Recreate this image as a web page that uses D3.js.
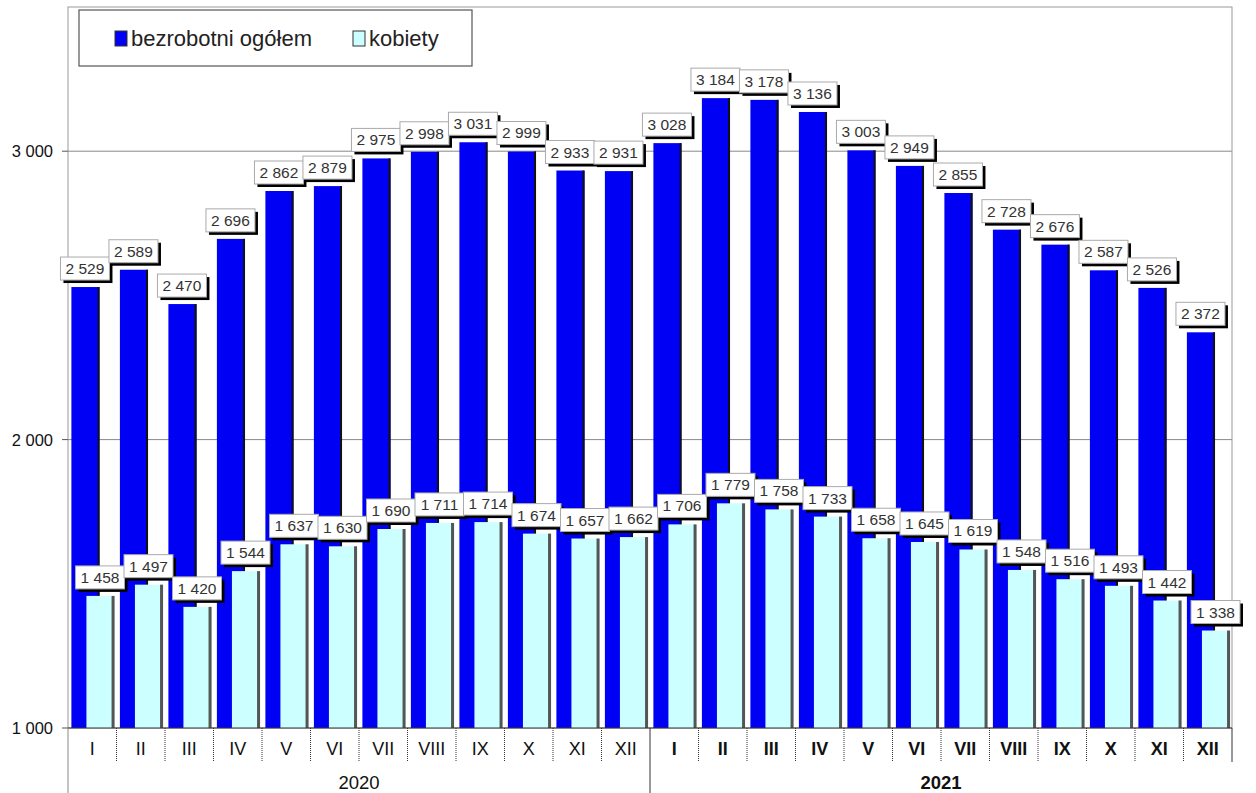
<!DOCTYPE html>
<meta charset="utf-8">
<title>Bezrobotni 2020-2021</title>
<style>
	body { margin: 0; background: #fff; }
	text { font-family: Arial, "Liberation Sans", sans-serif; }
	.lbl text { fill: #333; font-size: 15.5px; }
</style>
<body>
<script src="https://d3js.org/d3.v7.min.js"></script>
<script>

var width = 1256,
	height = 793;

var months = ["I","II","III","IV","V","VI","VII","VIII","IX","X","XI","XII"];
var years = ["2020", "2021"];
var ogolem = [2529, 2589, 2470, 2696, 2862, 2879, 2975, 2998, 3031, 2999, 2933, 2931,
	3028, 3184, 3178, 3136, 3003, 2949, 2855, 2728, 2676, 2587, 2526, 2372];
var kobiety = [1458, 1497, 1420, 1544, 1637, 1630, 1690, 1711, 1714, 1674, 1657, 1662,
	1706, 1779, 1758, 1733, 1658, 1645, 1619, 1548, 1516, 1493, 1442, 1338];
var yTicks = [1000, 2000, 3000];

var pLeft = 68, pRight = 1232, pTop = 7, pBottom = 728;

var keys = d3.range(24);
var x = d3.scaleBand().domain(keys).range([pLeft, pRight]);
var y = d3.scaleLinear().domain([1000, 3500]).range([pBottom, pTop]);
var bw = x.bandwidth();

var fmt = d3.formatLocale({decimal: ",", thousands: " ", grouping: [3], currency: ["", ""]}).format(",d");

var svg = d3.select("body").append("svg")
	.attr("width", width)
	.attr("height", height);

// grid
svg.selectAll(".grid").data([2000, 3000]).enter().append("line")
	.attr("x1", pLeft).attr("x2", pRight)
	.attr("y1", function(d) { return y(d); }).attr("y2", function(d) { return y(d); })
	.attr("stroke", "#888").attr("stroke-width", 1);

// frame
svg.append("rect")
	.attr("x", pLeft).attr("y", pTop)
	.attr("width", pRight - pLeft).attr("height", pBottom - pTop)
	.attr("fill", "none").attr("stroke", "#999").attr("stroke-width", 1);

// blue bars
var blue = svg.selectAll(".blue").data(keys).enter().append("g");
blue.append("rect")
	.attr("x", function(d) { return x(d) + bw * 0.07; })
	.attr("y", function(d) { return y(ogolem[d]); })
	.attr("width", bw * 0.58)
	.attr("height", function(d) { return pBottom - y(ogolem[d]); })
	.attr("fill", "#0000f5");
blue.append("rect")
	.attr("x", function(d) { return x(d) + bw * 0.65 - 2; })
	.attr("y", function(d) { return y(ogolem[d]); })
	.attr("width", 2)
	.attr("height", function(d) { return pBottom - y(ogolem[d]); })
	.attr("fill", "#111");

// light bars
var light = svg.selectAll(".light").data(keys).enter().append("g");
light.append("rect")
	.attr("x", function(d) { return x(d) + bw * 0.38; })
	.attr("y", function(d) { return y(kobiety[d]); })
	.attr("width", bw * 0.58)
	.attr("height", function(d) { return pBottom - y(kobiety[d]); })
	.attr("fill", "#ccffff");
light.append("rect")
	.attr("x", function(d) { return x(d) + bw * 0.96 - 3; })
	.attr("y", function(d) { return y(kobiety[d]); })
	.attr("width", 3)
	.attr("height", function(d) { return pBottom - y(kobiety[d]); })
	.attr("fill", "#555");

// value labels
function labels(values, offset) {
	var g = svg.selectAll(null).data(keys).enter().append("g")
		.attr("class", "lbl")
		.attr("transform", function(d) {
			return "translate(" + (x(d) + bw * offset) + "," + (y(values[d]) - 6) + ")";
		});
	g.append("rect")
		.attr("x", -22).attr("y", -21).attr("width", 49).attr("height", 23)
		.attr("fill", "#000");
	g.append("rect")
		.attr("x", -25).attr("y", -24).attr("width", 49).attr("height", 23)
		.attr("fill", "#fff").attr("stroke", "#aaa").attr("stroke-width", 1);
	g.append("text")
		.attr("x", -0.5).attr("y", -7)
		.attr("text-anchor", "middle")
		.text(function(d) { return fmt(values[d]); });
}
labels(ogolem, 0.36);
labels(kobiety, 0.67);

// y axis
var ya = svg.append("g");
ya.selectAll("line").data(yTicks).enter().append("line")
	.attr("x1", pLeft - 6).attr("x2", pLeft)
	.attr("y1", function(d) { return y(d); }).attr("y2", function(d) { return y(d); })
	.attr("stroke", "#555");
ya.selectAll("text").data(yTicks).enter().append("text")
	.attr("x", 53).attr("y", function(d) { return y(d) + 6; })
	.attr("text-anchor", "end")
	.attr("font-size", 16.5)
	.attr("fill", "#111")
	.text(function(d) { return fmt(d); });

// x axis
var xa = svg.append("g");
xa.append("line").attr("x1", pLeft).attr("x2", pRight).attr("y1", pBottom).attr("y2", pBottom)
	.attr("stroke", "#333");
xa.selectAll(".sep").data(keys.slice(1)).enter().append("line")
	.attr("x1", function(d) { return x(d); }).attr("x2", function(d) { return x(d); })
	.attr("y1", pBottom).attr("y2", function(d) { return d === 12 ? height : pBottom + 34; })
	.attr("stroke", "#333")
	.attr("stroke-dasharray", function(d) { return d === 12 ? null : "1,1"; });
xa.append("line").attr("x1", pLeft).attr("x2", pLeft).attr("y1", pBottom).attr("y2", height)
	.attr("stroke", "#888");
xa.append("line").attr("x1", pRight).attr("x2", pRight).attr("y1", pBottom).attr("y2", pBottom + 34)
	.attr("stroke", "#333");
xa.selectAll(".m").data(keys).enter().append("text")
	.attr("x", function(d) { return x(d) + bw / 2; })
	.attr("y", pBottom + 27)
	.attr("text-anchor", "middle")
	.attr("font-size", 18)
	.attr("font-weight", function(d) { return d >= 12 ? "bold" : "normal"; })
	.attr("fill", "#111")
	.text(function(d) { return months[d % 12]; });
xa.selectAll(".yr").data(years).enter().append("text")
	.attr("x", function(d, i) { return (x(i * 12) + x(i * 12 + 11) + bw) / 2; })
	.attr("y", pBottom + 61)
	.attr("text-anchor", "middle")
	.attr("font-size", 18.5)
	.attr("font-weight", function(d, i) { return i ? "bold" : "normal"; })
	.attr("fill", "#111")
	.text(function(d) { return d; });

// legend
var lg = svg.append("g");
lg.append("rect").attr("x", 79).attr("y", 10).attr("width", 393).attr("height", 56)
	.attr("fill", "#fff").attr("stroke", "#555").attr("stroke-width", 1.2);
var legendItems = [
	{name: "bezrobotni ogółem", color: "#0000f5", x: 115},
	{name: "kobiety", color: "#ccffff", x: 353}
];
var li = lg.selectAll(".li").data(legendItems).enter().append("g");
li.append("rect")
	.attr("x", function(d) { return d.x; }).attr("y", 31)
	.attr("width", 12).attr("height", 15)
	.attr("fill", function(d) { return d.color; })
	.attr("stroke", "#333").attr("stroke-width", 1);
li.append("text")
	.attr("x", function(d) { return d.x + 16; }).attr("y", 46)
	.attr("font-size", 22)
	.attr("fill", "#222")
	.text(function(d) { return d.name; });

</script>
